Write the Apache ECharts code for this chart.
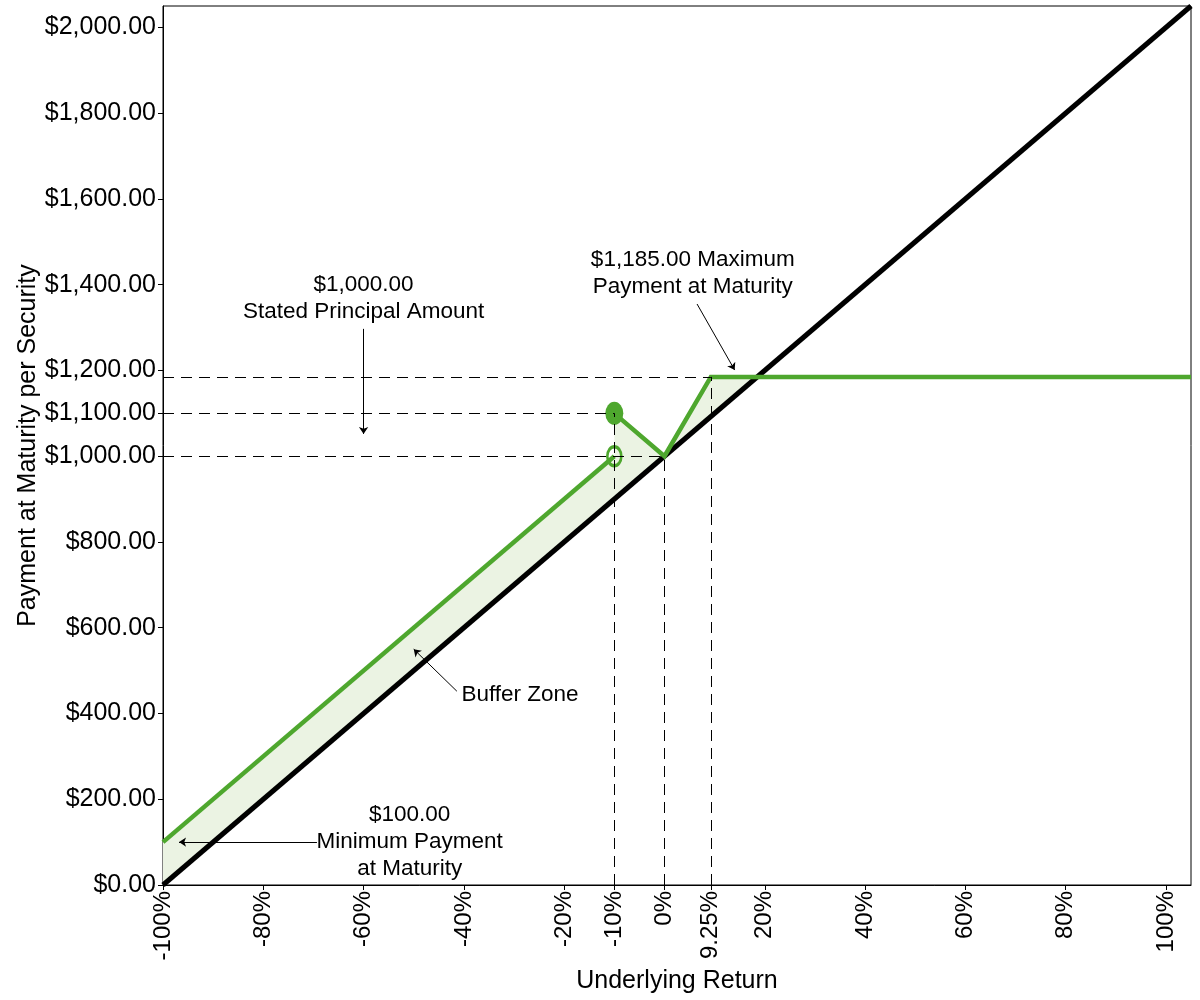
<!DOCTYPE html>
<html><head><meta charset="utf-8">
<script src="https://cdn.jsdelivr.net/npm/echarts@6/dist/echarts.min.js"></script>
<style>html,body{margin:0;padding:0;background:#fff}#c{width:1200px;height:1000px}</style>
</head><body><div id="c"></div>
<script>
// ---- data ----
const xTicks = [-100, -80, -60, -40, -20, -10, 0, 9.25, 20, 40, 60, 80, 100];
const yTicks = [0, 200, 400, 600, 800, 1000, 1100, 1200, 1400, 1600, 1800, 2000];
const underlyingLine = [[-100, 0], [105, 2050]];
const paymentLow = [[-100, 100], [-10, 1000]];
const paymentHigh = [[-10, 1100], [0, 1000], [9.25, 1185], [105, 1185]];
const openPoint = [[-10, 1000]];
const filledPoint = [[-10, 1100]];
const bufferArea = [[-100, 100], [-10, 1000], [-10, 1100], [0, 1000], [9.25, 1185], [18.5, 1185], [-100, 0]];
const guides = [
  [[-100, 1185], [9.25, 1185]],
  [[-100, 1100], [-10, 1100]],
  [[-100, 1000], [0, 1000]],
  [[-10, 0], [-10, 1100]],
  [[0, 0], [0, 1000]],
  [[9.25, 0], [9.25, 1185]]
];
const noteTexts = ['$1,000.00\nStated Principal Amount', '$1,185.00 Maximum\nPayment at Maturity', 'Buffer Zone', '$100.00\nMinimum Payment\nat Maturity'];
const notePositions = [[-60, 1369], [5.65, 1427], [-28.8, 443], [-50.8, 100]];
const arrows = [
  [[-60, 1297], [-60, 1052]],
  [[6.5, 1355], [14, 1201]],
  [[-41.4, 452], [-50, 550]],
  [[-69.3, 100], [-96.8, 100]]
];

const GREEN = '#4EA72E';
const FILL = '#EBF3E3';
const fmtMoney = v => '$' + Number(v).toLocaleString('en-US', {minimumFractionDigits: 2, maximumFractionDigits: 2});

const chart = echarts.init(document.getElementById('c'), null, {renderer: 'canvas'});
chart.setOption({
  animation: false,
  backgroundColor: '#fff',
  textStyle: {fontFamily: 'Liberation Sans, Arial, sans-serif', color: '#000'},
  grid: {left: 163, right: 9, top: 6, bottom: 115, show: true, borderColor: '#000', borderWidth: 1, containLabel: false, outerBoundsMode: 'none'},
  xAxis: {
    type: 'value', min: -100, max: 105,
    splitLine: {show: false},
    axisLine: {onZero: false, lineStyle: {color: '#000', width: 1}},
    axisTick: {show: true, customValues: xTicks, length: 5, lineStyle: {color: '#000'}},
    axisLabel: {customValues: xTicks, rotate: 90, fontSize: 24, color: '#000', margin: 6, formatter: v => v + '%'},
    name: 'Underlying Return', nameLocation: 'middle', nameGap: 81,
    nameTextStyle: {fontSize: 25, color: '#000'}
  },
  yAxis: {
    type: 'value', min: 0, max: 2050,
    splitLine: {show: false},
    axisLine: {onZero: false, lineStyle: {color: '#000', width: 1}},
    axisTick: {show: true, customValues: yTicks, length: 5, lineStyle: {color: '#000'}},
    axisLabel: {customValues: yTicks, fontSize: 25, color: '#000', margin: 7, formatter: fmtMoney},
    name: 'Payment at Maturity per Security', nameLocation: 'middle', nameGap: 122, nameMoveOverlap: false,
    nameTextStyle: {fontSize: 25, color: '#000'}
  },
  series: [
    {
      type: 'custom', z: 1, silent: true,
      data: bufferArea,
      renderItem: (params, api) => {
        if (params.dataIndex !== 0) return null;
        return {type: 'polygon', shape: {points: bufferArea.map(p => api.coord(p))}, style: {fill: FILL}};
      }
    },
    {type: 'line', z: 3, data: underlyingLine, symbol: 'none', lineStyle: {color: '#000', width: 5}, silent: true},
    {type: 'line', z: 4, data: paymentLow, symbol: 'none', lineStyle: {color: GREEN, width: 4.5}, silent: true},
    {type: 'line', z: 4, data: paymentHigh, symbol: 'none', lineStyle: {color: GREEN, width: 4.5, join: 'miter'}, silent: true},
    {type: 'scatter', z: 5, data: filledPoint, symbol: 'circle', symbolSize: [18, 23], itemStyle: {color: GREEN, opacity: 1}, silent: true},
    {type: 'scatter', z: 5, data: openPoint, symbol: 'circle', symbolSize: [14, 19], itemStyle: {color: 'rgba(0,0,0,0)', borderColor: GREEN, borderWidth: 3, opacity: 1}, silent: true},
    {
      type: 'lines', coordinateSystem: 'cartesian2d', z: 6, silent: true,
      data: guides.map(g => ({coords: g})),
      symbol: ['none', 'none'],
      lineStyle: {color: '#000', width: 1, type: [11, 7], opacity: 1}
    },
    {
      type: 'lines', coordinateSystem: 'cartesian2d', z: 7, silent: true,
      data: arrows.map(a => ({coords: a})),
      symbol: ['none', 'arrow'], symbolSize: 7,
      lineStyle: {color: '#000', width: 1, type: 'solid', opacity: 1}
    },
    {
      type: 'scatter', z: 8, silent: true,
      data: notePositions.map((p, i) => ({value: p, name: noteTexts[i]})),
      symbolSize: 0, itemStyle: {color: '#fff', opacity: 1},
      label: {show: true, position: 'inside', formatter: p => p.name, fontSize: 22.5, lineHeight: 27, color: '#000', textBorderWidth: 0, opacity: 1, align: 'center'}
    }
  ]
});
</script>
</body></html>
